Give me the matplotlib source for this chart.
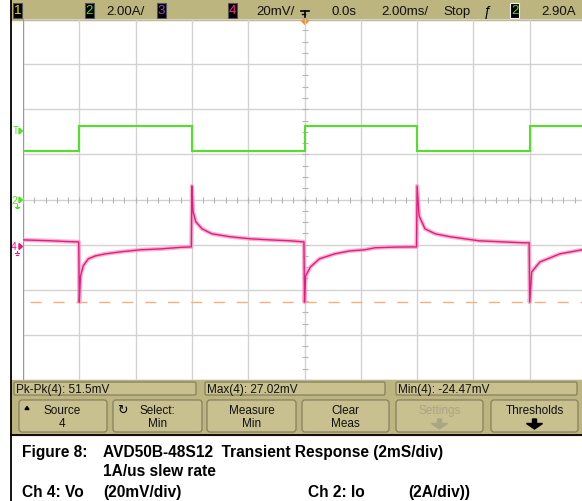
import matplotlib
matplotlib.use("Agg")
import matplotlib.pyplot as plt
import numpy as np
from matplotlib.patches import Rectangle, FancyBboxPatch, Polygon

# ---------------- data ----------------
# Ch2 load current (A) vs time (ms)
t_ch2 = [-10, -8, -8, -4, -4, 0, 0, 4, 4, 8, 8, 10]
i_ch2 = [2.13, 2.13, 3.24, 3.24, 2.13, 2.13, 3.24, 3.24, 2.13, 2.13, 3.24, 3.24]

# Ch4 output voltage deviation (mV) vs time (ms)
t_ch4 = [-10.0, -9.5, -9.0, -8.5, -8.02,
         -8.0, -7.96, -7.86, -7.68, -7.43, -7.08, -6.54, -5.83, -5.12, -4.4, -4.02,
         -4.0, -3.96, -3.86, -3.64, -3.29, -2.65, -1.94, -1.23, -0.52, -0.02,
         0.0, 0.04, 0.21, 0.53, 1.07, 1.6, 2.13, 2.5, 3.2, 3.98,
         4.0, 4.07, 4.28, 4.64, 5.17, 6.2, 7.8, 7.98,
         8.0, 8.07, 8.36, 9.07, 9.86, 10.0]
v_ch4 = [3.1, 2.9, 2.7, 2.4, 2.2,
         -24.5, -13.1, -8.4, -5.3, -4.0, -3.1, -2.2, -1.3, -0.9, -0.2, 0.0,
         27.0, 15.6, 11.1, 8.0, 5.8, 4.5, 3.6, 3.1, 2.7, 2.2,
         -24.5, -12.9, -8.9, -5.3, -3.1, -1.8, -1.3, -0.4, -0.1, 0.0,
         27.0, 13.8, 8.0, 5.8, 4.5, 2.7, 1.8, 1.8,
         -24.5, -11.1, -6.7, -3.1, -1.3, -1.1]
v_min_cursor = -24.47

header_items = ["2.00A/", "20mV/", "0.0s", "2.00ms/", "Stop", "2.90A"]
measure_labels = ["Pk-Pk(4): 51.5mV", "Max(4): 27.02mV", "Min(4): -24.47mV"]
button_top = ["Source", "Select:", "Measure", "Clear", "Settings", "Thresholds"]
button_bottom = ["4", "Min", "Min", "Meas", "", ""]
caption_lines = ["Figure 8:", "AVD50B-48S12  Transient Response (2mS/div)",
                 "1A/us slew rate", "Ch 4: Vo", "(20mV/div)", "Ch 2: Io", "(2A/div))"]

# ---------------- styling ----------------
W, H = 582, 502
TAN = "#bdb57f"
BOX = "#c8c08e"
EDGE = "#858060"
GREEN = "#52e02a"
PINK = "#e8197f"
FONT = "Liberation Sans"

fig = plt.figure(figsize=(W / 100, H / 100), dpi=100)
fig.patch.set_facecolor("white")

bg = fig.add_axes([0, 0, 1, 1], zorder=0)
bg.set_xlim(0, W)
bg.set_ylim(H, 0)
bg.axis("off")

# scope grid axes (extends slightly past right edge, as in the screenshot)
x0, x1, y0, y1 = 23, 586, 20, 381
ax = fig.add_axes([x0 / W, (H - y1) / H, (x1 - x0) / W, (y1 - y0) / H], zorder=2)
ax.set_facecolor("none")
ax.set_xlim(-10, 10)
ax.set_ylim(-4, 4)
ax.set_xticks(np.arange(-10, 11, 2))
ax.set_yticks(np.arange(-4, 5, 1))
ax.grid(True, color="#d2d2d2", lw=1.0)
ax.tick_params(length=0, labelbottom=False, labelleft=False)
for s in ax.spines.values():
    s.set_visible(False)
ax.axvline(-10, color="#9a9a9a", lw=1.6)
# center-line minor ticks
ax.plot(np.arange(-10, 10.01, 0.4), np.zeros(51), ls="none", marker="|",
        ms=4, mew=0.8, color="#b5b5b5")
ax.plot(np.zeros(33), np.arange(-4, 4.01, 0.25), ls="none", marker="_",
        ms=4, mew=0.8, color="#b5b5b5")

ax2 = ax.twinx()
ax2.set_ylim(-8, 8)
ax2.axis("off")
ax4 = ax.twinx()
ax4.set_ylim(-59, 101)
ax4.axis("off")

ax2.plot(t_ch2, i_ch2, color=GREEN, lw=1.5, solid_joinstyle="miter")
ax4.axhline(v_min_cursor, xmin=0.012, color="#f5b07a", lw=1.0, dashes=(8, 8.5))
ax4.plot(t_ch4, v_ch4, color="#f59ac4", lw=3.0, alpha=0.75)
ax4.plot(t_ch4, v_ch4, color=PINK, lw=1.0)

# ---------------- header ----------------
bg.add_patch(Rectangle((11, 0), W - 11, 21, color=TAN, zorder=1))
bg.plot([11, 11], [0, H], color="black", lw=1.3, zorder=5)

def chan_box(x, digit, color, edge="#555555"):
    bg.add_patch(Rectangle((x, 3.5), 9, 15.5, facecolor="black", edgecolor=edge,
                           lw=0.8, zorder=3))
    bg.text(x + 4.5, 11.5, digit, color=color, fontsize=9.5, family=FONT,
            ha="center", va="center", zorder=4)

chan_box(13, "1", "#e8e200")
chan_box(85, "2", GREEN)
chan_box(157, "3", "#a040e0")
chan_box(228, "4", "#ff2a8a")
chan_box(510, "2", GREEN, edge="#f0f0f0")

hx = [106, 256, 331, 381, 443, 541]
for x, s in zip(hx, header_items):
    bg.text(x, 12, s, fontsize=9.5, family=FONT, ha="left", va="center",
            color="#111111", zorder=4)
# trigger position marker
bg.plot([301, 309], [12, 12], color="black", lw=1.2, zorder=4)
bg.plot([305, 305], [12, 18], color="black", lw=1.2, zorder=4)
bg.plot([302, 305], [15, 15], color="black", lw=1.0, zorder=4)
bg.add_patch(Polygon([[300.5, 20.5], [309.5, 20.5], [305, 25.5]], color="#f08a20", zorder=6))
# trigger slope symbol
bg.text(488, 12, "ƒ", fontsize=10, family=FONT, ha="center", va="center", zorder=4)

# left channel markers
bg.text(16, 131, "T", color=GREEN, fontsize=7, family=FONT, ha="center", va="center")
bg.text(14, 201, "2", color=GREEN, fontsize=7.5, family=FONT, ha="center", va="center")
bg.text(14, 247, "4", color=PINK, fontsize=7.5, family=FONT, ha="center", va="center")
for yy, c in [(132, GREEN), (201, GREEN), (247.5, PINK)]:
    bg.add_patch(Polygon([[19, yy - 3], [19, yy + 3], [22.5, yy]], color=c, zorder=4))
for yy, c in [(205, GREEN), (251.5, PINK)]:
    bg.plot([17, 17], [yy, yy + 2.5], color=c, lw=0.8)
    bg.plot([15, 19], [yy + 2.5, yy + 2.5], color=c, lw=0.8)
    bg.plot([16, 18], [yy + 4, yy + 4], color=c, lw=0.8)

# ---------------- measurement / softkey area ----------------
bg.add_patch(Rectangle((11, 381), W - 11, 55, color=TAN, zorder=1))
meas_x = [(14, 196), (205, 385), (396, 577)]
for (a, b), s in zip(meas_x, measure_labels):
    bg.add_patch(FancyBboxPatch((a, 383), b - a, 13,
                                boxstyle="round,pad=0,rounding_size=1.5",
                                facecolor=BOX, edgecolor=EDGE, lw=0.9, zorder=2))
    bg.text(a + 2, 390, s, fontsize=8.5, family=FONT, ha="left", va="center",
            color="#111111", zorder=3)

btn_x = [(19, 107), (113, 202), (207, 296), (302, 389), (396, 483), (491, 578)]
for i, ((a, b), t1, t2) in enumerate(zip(btn_x, button_top, button_bottom)):
    bg.add_patch(FancyBboxPatch((a, 401), b - a, 32,
                                boxstyle="round,pad=0,rounding_size=3",
                                facecolor=BOX, edgecolor=EDGE, lw=0.9, zorder=2))
    cx = (a + b) / 2
    col = "#a9a585" if t1 == "Settings" else "#111111"
    dx = -1 if i == 0 else 0
    bg.text(cx + dx, 411, t1, fontsize=8.5, family=FONT, ha="center", va="center",
            color=col, zorder=3)
    if t2:
        bg.text(cx + dx, 424, t2, fontsize=8.5, family=FONT, ha="center", va="center",
                color=col, zorder=3)
    if t1 in ("Settings", "Thresholds"):
        acol = "#a9a585" if t1 == "Settings" else "black"
        bg.add_patch(Polygon([[cx - 2, 420], [cx + 2, 420], [cx + 2, 424.5],
                              [cx + 8, 424.5], [cx, 430], [cx - 8, 424.5],
                              [cx - 2, 424.5]], color=acol, zorder=3))
# Source up-arrow and Select icon
bg.add_patch(Polygon([[25, 410.5], [29, 410.5], [27, 407.5]], color="black", zorder=3))
bg.text(122, 410, "↻", fontsize=9, family="DejaVu Sans", ha="center", va="center", zorder=3)

# ---------------- caption ----------------
bg.plot([11, W], [436, 436], color="black", lw=1.3, zorder=5)
cap = dict(fontsize=11.2, family=FONT, fontweight="bold", ha="left",
           va="baseline", color="black")
bg.text(22, 457, caption_lines[0], **cap)
bg.text(103, 457, caption_lines[1], **cap)
bg.text(103, 476, caption_lines[2], **cap)
bg.text(22, 497, caption_lines[3], **cap)
bg.text(103, 497, caption_lines[4], **cap)
bg.text(308, 497, caption_lines[5], **cap)
bg.text(408, 497, caption_lines[6], **cap)

fig.savefig("out.png", dpi=100, facecolor="white")
